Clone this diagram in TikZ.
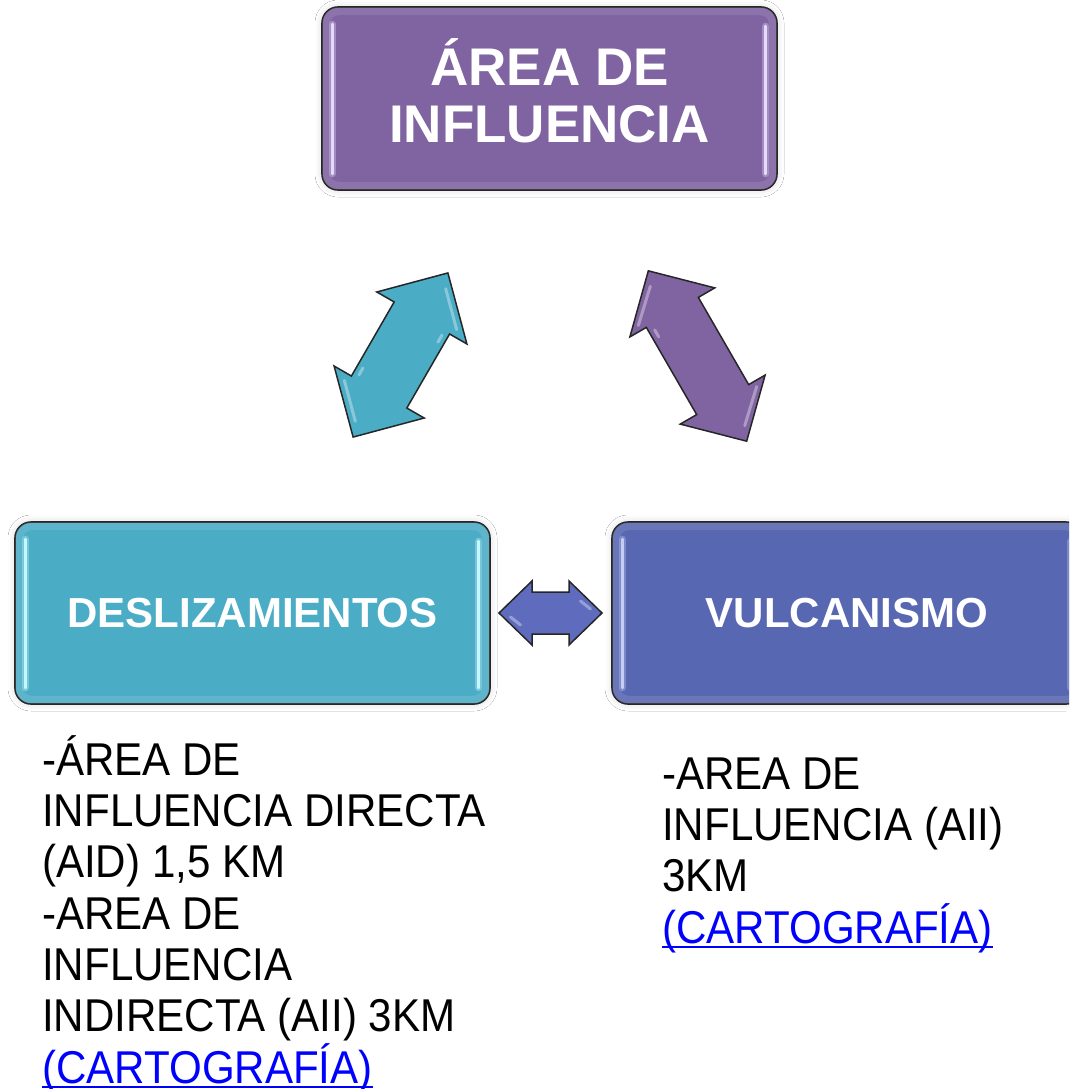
\documentclass[tikz,border=0pt]{standalone}
\usepackage{fontspec}
\setmainfont{Liberation Sans}
\newfontfamily\bodyfont[FakeStretch=0.915]{Liberation Sans}
\usetikzlibrary{calc,shadows.blur}
\definecolor{cPurple}{HTML}{8064A2}
\definecolor{cCyan}{HTML}{4BACC6}
\definecolor{cBlue}{HTML}{5867B1}
\definecolor{cArrowBlue}{HTML}{5F6CBE}
\definecolor{cLink}{HTML}{0000FF}
\definecolor{hlPurple}{HTML}{E6DAFA}
\definecolor{hlCyan}{HTML}{C4F7FF}
\definecolor{hlBlue}{HTML}{C6CDF4}
\newcommand\linkul[1]{\setbox0\hbox{#1}\rlap{\rule[-5pt]{\wd0}{2.5pt}}\box0}
\begin{document}
\begin{tikzpicture}[x=1pt,y=-1pt,
  panel/.style={draw=black!85, line width=1.6pt, rounded corners=16pt,
    text=white, align=center, inner sep=0pt,
    blur shadow={shadow xshift=0pt, shadow yshift=0pt, shadow blur radius=7pt, shadow opacity=15}},
  hlglow/.style={line width=7pt, line cap=round, draw opacity=0.35},
  hlline/.style={line width=3pt, line cap=round},
  inset/.style={line width=8pt, draw=white, draw opacity=0.10, rounded corners=12pt},
  blockarrow/.style={draw=black!85, line width=1.5pt, line join=miter},
  bevel/.style={draw=white, draw opacity=0.35, line width=3pt, line cap=round},
  body/.style={font=\bodyfont\fontsize{46}{51.3}\selectfont, align=left, inner sep=0pt, text=black},
  link/.style={text=cLink}
]
\clip (0,0) rectangle (1069,1089);
\fill[white] (0,0) rectangle (1069,1089);

% boxes
\node[panel, fill=cPurple, minimum width=455pt, minimum height=183pt,
  font=\bfseries\fontsize{53}{57}\selectfont, text depth=15pt] (area) at (549.5,98.5) {ÁREA DE\\INFLUENCIA};
\node[panel, fill=cCyan, minimum width=475pt, minimum height=182pt,
  font=\bfseries\fontsize{42}{50}\selectfont] (desl) at (252.5,613) {DESLIZAMIENTOS};
\node[panel, fill=cBlue, minimum width=470pt, minimum height=182pt,
  font=\bfseries\fontsize{42}{50}\selectfont] (vulc) at (847,613) {VULCANISMO};

% inner soft edges
\draw[inset] ($(area.north west)+(5,5)$) rectangle ($(area.south east)+(-5,-5)$);
\draw[inset] ($(desl.north west)+(5,5)$) rectangle ($(desl.south east)+(-5,-5)$);
\draw[inset] ($(vulc.north west)+(5,5)$) rectangle ($(vulc.south east)+(-5,-5)$);

% highlights
\foreach \n/\c in {area/hlPurple, desl/hlCyan, vulc/hlBlue}{
  \draw[hlglow, draw=\c] ($(\n.north west)+(11,18)$) -- ($(\n.south west)+(11,-17)$);
  \draw[hlline, draw=\c] ($(\n.north west)+(11,18)$) -- ($(\n.south west)+(11,-17)$);
  \draw[hlglow, draw=\c] ($(\n.north east)+(-12,20)$) -- ($(\n.south east)+(-12,-17)$);
  \draw[hlline, draw=\c] ($(\n.north east)+(-12,20)$) -- ($(\n.south east)+(-12,-17)$);
}

% block arrows
\coordinate (cyanArrow) at (400.5,355);
\coordinate (purpleArrow) at (697.5,356);
\coordinate (blueArrow) at (550.5,613);

\begin{scope}[shift={(cyanArrow)}, rotate=60]
  \filldraw[blockarrow, fill=cCyan]
    (-94.75,0) -- (-42.75,52) -- (-42.75,32) -- (42.75,32) -- (42.75,52) -- (94.75,0)
    -- (42.75,-52) -- (42.75,-32) -- (-42.75,-32) -- (-42.75,-52) -- cycle;
  \draw[bevel] (80,6) -- (50,36);
  \draw[bevel] (-80,-6) -- (-50,-36);
  \draw[bevel] (-38,-26) -- (-30,-26);
  \draw[bevel] (38,26) -- (30,26);
\end{scope}

\begin{scope}[shift={(purpleArrow)}, rotate=120]
  \filldraw[blockarrow, fill=cPurple]
    (-98.35,0) -- (-50.35,49) -- (-50.35,30) -- (50.35,30) -- (50.35,49) -- (98.35,0)
    -- (50.35,-49) -- (50.35,-30) -- (-50.35,-30) -- (-50.35,-49) -- cycle;
  \draw[bevel] (84,-6) -- (56,-36);
  \draw[bevel] (-84,6) -- (-56,36);
  \draw[bevel] (44,-24) -- (36,-24);
\end{scope}

\begin{scope}[shift={(blueArrow)}]
  \filldraw[blockarrow, fill=cArrowBlue]
    (-51.5,0) -- (-18.5,32) -- (-18.5,21) -- (18.5,21) -- (18.5,32) -- (51.5,0)
    -- (18.5,-32) -- (18.5,-21) -- (-18.5,-21) -- (-18.5,-32) -- cycle;
  \draw[bevel] (-40,4) -- (-30,12);
  \draw[bevel] (40,-4) -- (30,-12);
\end{scope}

% texts (base anchor = baseline of last line)
\node[body, anchor=base west] (dtext) at (42,1083)
  {-ÁREA DE\\INFLUENCIA DIRECTA\\(AID) 1,5 KM\\-AREA DE\\INFLUENCIA\\INDIRECTA (AII) 3KM\\{\color{cLink}\linkul{(CARTOGRAFÍA)}}};
\node[body, anchor=base west] (vtext) at (662,943)
  {-AREA DE\\INFLUENCIA (AII)\\3KM\\{\color{cLink}\linkul{(CARTOGRAFÍA)}}};
\end{tikzpicture}
\end{document}
